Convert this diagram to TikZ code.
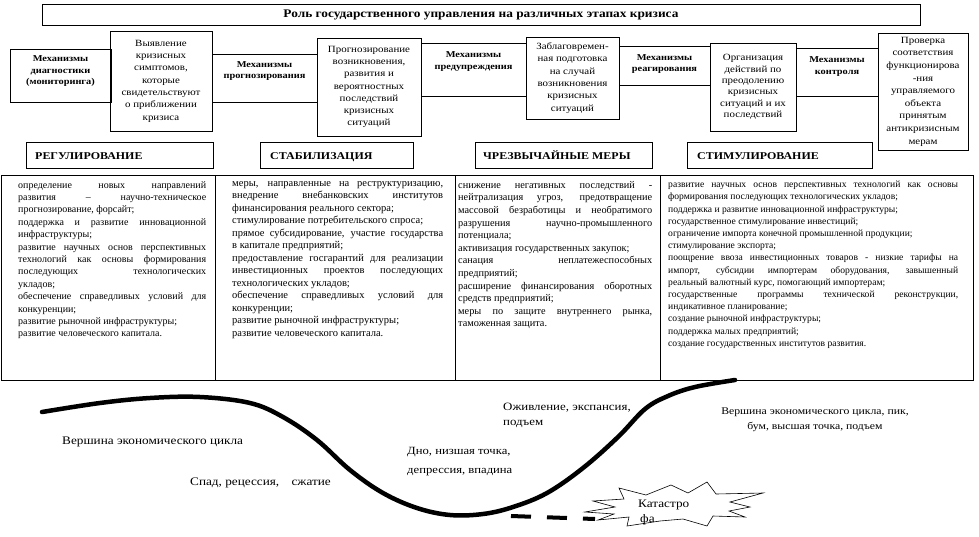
\documentclass[tikz,border=0pt]{standalone}
\usepackage{fontspec}
\setmainfont{Liberation Serif}
\newfontfamily\wide[FakeStretch=1.15]{Liberation Serif}
\setlength{\parindent}{0pt}
\tolerance=10000
\hbadness=10000
\hfuzz=20pt
\begin{document}
\begin{tikzpicture}[x=1pt,y=-1pt,
  box/.style={draw, line width=0.8pt, inner sep=0pt},
  mech/.style={font=\wide\bfseries\fontsize{9}{11.5}\selectfont, align=center, inner sep=0pt},
  desc/.style={font=\wide\fontsize{9.5}{12.3}\selectfont, align=center},
  head/.style={font=\wide\bfseries\fontsize{10.4}{12}\selectfont, anchor=base west, inner sep=0pt},
  coltext/.style={anchor=north west, inner sep=0pt, align=justify},
  lbl/.style={font=\wide\fontsize{11.5}{15}\selectfont, inner sep=0pt}
]
\fill[white] (0,0) rectangle (979,536);
\useasboundingbox (0,0) rectangle (979,536);

% title
\node[box, minimum width=878pt, minimum height=21pt,
  font=\wide\bfseries\fontsize{11.6}{13}\selectfont] (title) at (481,14.5)
  {Роль государственного управления на различных этапах кризиса};

% top row
\node[box, minimum width=101pt, minimum height=53pt] (m1) at (60.5,75.5) {};
\node[mech] (m1t) at (60.5,71.5) {Механизмы\\диагностики\\(мониторинга)};
\node[box, desc, minimum width=102pt, minimum height=100pt] (d1) at (161,81)
  {Выявление\\кризисных\\симптомов,\\которые\\свидетельствуют\\о приближении\\кризиса};
\node[box, minimum width=105pt, minimum height=48pt] (m2) at (264.5,78) {};
\node[mech] (m2t) at (264.5,71) {Механизмы\\прогнозирования};
\node[box, desc, minimum width=104pt, minimum height=98pt] (d2) at (369,87)
  {Прогнозирование\\возникновения,\\развития и\\вероятностных\\последствий\\кризисных\\ситуаций};
\node[box, minimum width=105pt, minimum height=53pt] (m3) at (473.5,69.5) {};
\node[mech] (m3t) at (473.5,61.5) {Механизмы\\предупреждения};
\node[box, desc, minimum width=93pt, minimum height=82pt] (d3) at (572.5,78)
  {Заблаговремен-\\ная подготовка\\на случай\\возникновения\\кризисных\\ситуаций};
\node[box, minimum width=91pt, minimum height=39pt] (m4) at (664.5,65.5) {};
\node[mech] (m4t) at (664.5,64) {Механизмы\\реагирования};
\node[box, desc, font=\wide\fontsize{9.5}{11.3}\selectfont, minimum width=86pt, minimum height=88pt] (d4) at (753,87)
  {Организация\\действий по\\преодолению\\кризисных\\ситуаций и их\\последствий};
\node[box, minimum width=82pt, minimum height=48pt] (m5) at (837,72) {};
\node[mech] (m5t) at (837,66.5) {Механизмы\\контроля};
\node[box, desc, font=\wide\fontsize{9.5}{12.6}\selectfont, minimum width=90pt, minimum height=117pt] (d5) at (923,91.5)
  {Проверка\\соответствия\\функционирова\\-ния\\управляемого\\объекта\\принятым\\антикризисным\\мерам};

% column headers
\node[box, minimum width=187pt, minimum height=26pt] (h1) at (119.5,155) {};
\node[head] (h1t) at (35,159) {РЕГУЛИРОВАНИЕ};
\node[box, minimum width=153pt, minimum height=26pt] (h2) at (336.5,155) {};
\node[head] (h2t) at (270,159) {СТАБИЛИЗАЦИЯ};
\node[box, minimum width=177pt, minimum height=26pt] (h3) at (563.5,155) {};
\node[head] (h3t) at (483,159) {ЧРЕЗВЫЧАЙНЫЕ МЕРЫ};
\node[box, minimum width=185pt, minimum height=26pt] (h4) at (779.5,155) {};
\node[head] (h4t) at (697,159) {СТИМУЛИРОВАНИЕ};

% table
\node[box, minimum width=214pt, minimum height=205pt] (c1) at (108,277.5) {};
\node[box, minimum width=240pt, minimum height=205pt] (c2) at (335,277.5) {};
\node[box, minimum width=205pt, minimum height=205pt] (c3) at (557.5,277.5) {};
\node[box, minimum width=313pt, minimum height=205pt] (c4) at (816.5,277.5) {};

\node[coltext, text width=188pt, font=\fontsize{10}{12.4}\selectfont] (t1) at (18,181) {%
определение новых направлений\linebreak
развития – научно-техническое\linebreak
прогнозирование, форсайт;\par
поддержка и развитие инновационной\linebreak
инфраструктуры;\par
развитие научных основ перспективных\linebreak
технологий как основы формирования\linebreak
последующих технологических\linebreak
укладов;\par
обеспечение справедливых условий для\linebreak
конкуренции;\par
развитие рыночной инфраструктуры;\par
развитие человеческого капитала.};

\node[coltext, text width=211pt, font=\fontsize{10.5}{12.5}\selectfont] (t2) at (232,181) {%
меры, направленные на реструктуризацию,\linebreak
внедрение внебанковских институтов\linebreak
финансирования реального сектора;\par
стимулирование потребительского спроса;\par
прямое субсидирование, участие государства\linebreak
в капитале предприятий;\par
предоставление госгарантий для реализации\linebreak
инвестиционных проектов последующих\linebreak
технологических укладов;\par
обеспечение справедливых условий для\linebreak
конкуренции;\par
развитие рыночной инфраструктуры;\par
развитие человеческого капитала.};

\node[coltext, text width=194pt, font=\fontsize{10.3}{12.6}\selectfont] (t3) at (458,181) {%
снижение негативных последствий -\linebreak
нейтрализация угроз, предотвращение\linebreak
массовой безработицы и необратимого\linebreak
разрушения научно-промышленного\linebreak
потенциала;\par
активизация государственных закупок;\par
санация неплатежеспособных\linebreak
предприятий;\par
расширение финансирования оборотных\linebreak
средств предприятий;\par
меры по защите внутреннего рынка,\linebreak
таможенная защита.};

\node[coltext, text width=290pt, font=\fontsize{9.6}{12.2}\selectfont] (t4) at (668,181) {%
развитие научных основ перспективных технологий как основы\linebreak
формирования последующих технологических укладов;\par
поддержка и развитие инновационной инфраструктуры;\par
государственное стимулирование инвестиций;\par
ограничение импорта конечной промышленной продукции;\par
стимулирование экспорта;\par
поощрение ввоза инвестиционных товаров - низкие тарифы на\linebreak
импорт, субсидии импортерам оборудования, завышенный\linebreak
реальный валютный курс, помогающий импортерам;\par
государственные программы технической реконструкции,\linebreak
индикативное планирование;\par
создание рыночной инфраструктуры;\par
поддержка малых предприятий;\par
создание государственных институтов развития.};

% economic cycle curve
\draw[line width=4.5pt, line cap=round] plot[smooth, tension=0.6] coordinates {
 (42,412) (100,403) (150,398) (200,397) (250,403) (283,417) (317,440)
 (350,470) (383,493) (417,508) (450,515) (483,514) (513,507) (547,493)
 (583,468) (618,437) (645,409) (668,396) (695,387) (735,380)};
\draw[line width=4pt, dash pattern=on 20pt off 16pt] (511,516) -- (595,519);

% catastrophe burst
\draw[line width=0.6pt] (585,512) -- (615,507) -- (593,501) -- (624,499) -- (619,488)
 -- (646,495) -- (671,485) -- (688,493) -- (707,482) -- (716,494) -- (763,493)
 -- (730,502) -- (750,507) -- (729,511) -- (745,517) -- (713,516) -- (707,526)
 -- (683,519) -- (660,521) -- (627,526) -- (629,517) -- (598,520) -- (614,514) -- cycle;
\node[lbl, align=left, anchor=north west] (kat) at (638,500) {Катастро\\\hspace*{2pt}фа};

% labels
\node[lbl, anchor=west] (l1) at (62,442) {Вершина экономического цикла};
\node[lbl, anchor=west] (l2) at (190,483) {Спад, рецессия,\hspace{9pt} сжатие};
\node[lbl, font=\wide\fontsize{11}{19}\selectfont, align=left, anchor=west] (l3) at (407,461.5)
  {Дно, низшая точка,\\депрессия, впадина};
\node[lbl, font=\wide\fontsize{11.2}{15}\selectfont, align=left, anchor=west] (l4) at (503,415.5)
  {Оживление, экспансия,\\подъем};
\node[lbl, font=\wide\fontsize{10.2}{15}\selectfont, align=center] (l5) at (815,419.5)
  {Вершина экономического цикла, пик,\\бум, высшая точка, подъем};
\end{tikzpicture}
\end{document}
